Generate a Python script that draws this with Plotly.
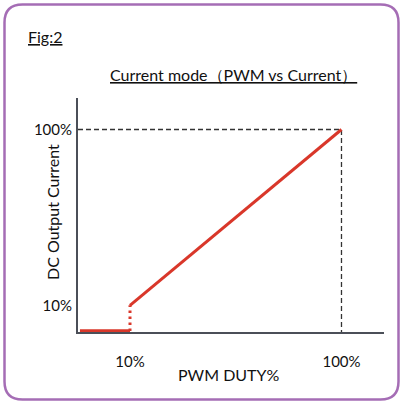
import plotly.graph_objects as go

# ---- data (schematic: PWM duty % vs DC output current %) ----
duty_on = [10, 100]          # linear dimming region
current_on = [10, 100]
duty_off = [-11.3, 10]       # output off below 10% duty
current_off = [-3.2, -3.2]
jump_duty = [10, 10]         # dotted step at 10%
jump_current = [-3.2, 10]
ref_duty = [-12.13, 100, 100]   # dashed guide to 100% / 100%
ref_current = [100, 100, -3.67]

x_tickvals = [10, 100]
x_ticktext = ["10%", "100%"]
y_tickvals = [10, 100]
y_ticktext = ["10%", "100%"]

title_text = "Current mode（PWM vs Current）"
fig_label = "Fig:2"
x_title = "PWM DUTY%"
y_title = "DC Output Current"

# ---- layout geometry ----
W, H = 401, 404
L, R, T, B = 78, 384, 98, 332
FONT = "Lato"
RED = "#d9372a"
AXIS = "#4b4f58"


def xp(px):
    return (px - L) / (R - L)


def yp(py):
    return (B - py) / (B - T)


fig = go.Figure()
fig.add_trace(go.Scatter(x=ref_duty, y=ref_current, mode="lines",
                         line=dict(color="#333333", width=1.3, dash="5px,3px"),
                         hoverinfo="skip", showlegend=False, cliponaxis=False))
fig.add_trace(go.Scatter(x=jump_duty, y=jump_current, mode="lines",
                         line=dict(color=RED, width=3, dash="2.5px,3.5px"),
                         showlegend=False))
fig.add_trace(go.Scatter(x=duty_off, y=current_off, mode="lines",
                         line=dict(color=RED, width=3.5),
                         showlegend=False))
fig.add_trace(go.Scatter(x=duty_on, y=current_on, mode="lines",
                         line=dict(color=RED, width=3),
                         showlegend=False))

# rounded border
x0, y0, x1, y1, r = 4.5, 4.5, 398.5, 399.5, 18
path = (f"M {xp(x0 + r)},{yp(y0)} L {xp(x1 - r)},{yp(y0)} "
        f"Q {xp(x1)},{yp(y0)} {xp(x1)},{yp(y0 + r)} "
        f"L {xp(x1)},{yp(y1 - r)} Q {xp(x1)},{yp(y1)} {xp(x1 - r)},{yp(y1)} "
        f"L {xp(x0 + r)},{yp(y1)} Q {xp(x0)},{yp(y1)} {xp(x0)},{yp(y1 - r)} "
        f"L {xp(x0)},{yp(y0 + r)} Q {xp(x0)},{yp(y0)} {xp(x0 + r)},{yp(y0)} Z")
fig.add_shape(type="path", path=path, xref="paper", yref="paper",
              line=dict(color="#a56db5", width=2.5), layer="above")

ann_font = dict(family=FONT, size=16, color="#111111")
fig.add_annotation(x=xp(26), y=yp(36), xref="paper", yref="paper",
                   text=f"<u>{fig_label}</u>", showarrow=False,
                   xanchor="left", yanchor="middle", font=ann_font)
fig.add_annotation(x=xp(233), y=yp(75), xref="paper", yref="paper",
                   text=f"<u>{title_text}</u>", showarrow=False,
                   xanchor="center", yanchor="middle", font=ann_font)
fig.add_annotation(x=xp(228), y=yp(374), xref="paper", yref="paper",
                   text=x_title, showarrow=False,
                   xanchor="center", yanchor="middle", font=ann_font)
fig.add_annotation(x=xp(52), y=yp(212), xref="paper", yref="paper",
                   text=y_title, showarrow=False, textangle=-90,
                   xanchor="center", yanchor="middle", font=ann_font)

fig.update_layout(
    width=W, height=H,
    margin=dict(l=L, r=W - R, t=T, b=H - B, pad=0),
    paper_bgcolor="white", plot_bgcolor="white",
    showlegend=False,
    xaxis=dict(range=[-12.13, 118.09], showgrid=False, zeroline=False,
               showline=True, linecolor=AXIS, linewidth=2,
               tickvals=x_tickvals, ticktext=x_ticktext, ticks="",
               ticklabelstandoff=15,
               tickfont=dict(family=FONT, size=15, color="#111111")),
    yaxis=dict(range=[-3.67, 116.13], showgrid=False, zeroline=False,
               showline=True, linecolor=AXIS, linewidth=2,
               tickvals=y_tickvals, ticktext=y_ticktext, ticks="",
               ticklabelstandoff=1,
               tickfont=dict(family=FONT, size=15, color="#111111")),
)

fig.write_html("out.html", config={"displayModeBar": False},
               post_script="document.body.style.margin='0';"
                           "document.body.style.padding='0';")
